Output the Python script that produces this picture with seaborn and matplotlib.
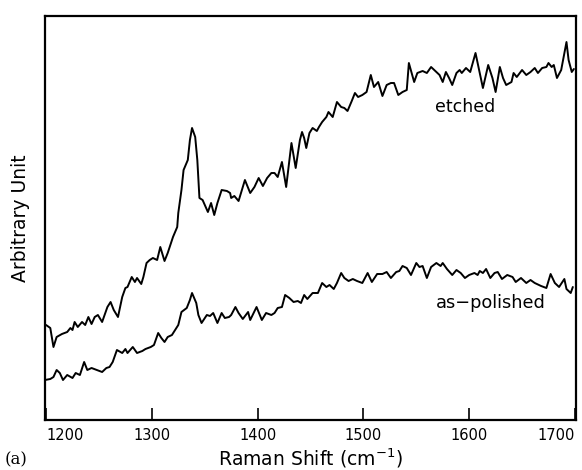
import matplotlib
matplotlib.use("Agg")
import matplotlib.pyplot as plt
import seaborn as sns
import pandas as pd

# Raman shift (cm^-1) and intensity (arbitrary units)
etched_shift = [1200, 1204, 1207, 1210, 1215, 1220, 1223, 1225, 1227, 1230, 1234, 1237, 1240, 1243,
                1246, 1249, 1253, 1256, 1258, 1261, 1264, 1268, 1272, 1275, 1277, 1281, 1284, 1286,
                1290, 1292, 1295, 1298, 1301, 1305, 1308, 1312, 1315, 1320, 1324, 1325, 1328, 1330,
                1334, 1336, 1338, 1341, 1343, 1345, 1348, 1353, 1356, 1359, 1362, 1366, 1371, 1374,
                1375, 1378, 1382, 1388, 1393, 1397, 1401, 1405, 1409, 1413, 1416, 1419, 1423, 1427,
                1432, 1436, 1440, 1442, 1444, 1446, 1449, 1452, 1456, 1458, 1461, 1465, 1467, 1471,
                1475, 1479, 1482, 1485, 1489, 1492, 1495, 1499, 1503, 1507, 1510, 1514, 1518, 1522,
                1526, 1529, 1533, 1537, 1541, 1543, 1548, 1551, 1556, 1560, 1564, 1569, 1572, 1575,
                1578, 1581, 1584, 1588, 1591, 1593, 1597, 1601, 1606, 1609, 1613, 1618, 1622, 1625,
                1629, 1632, 1635, 1640, 1642, 1645, 1650, 1654, 1658, 1662, 1665, 1669, 1673, 1675,
                1678, 1680, 1683, 1687, 1692, 1694, 1697, 1699]
etched_int = [95, 92, 73, 83, 86, 88, 92, 90, 98, 93, 98, 95, 103, 96,
              103, 105, 98, 107, 113, 118, 110, 103, 123, 132, 133, 143, 138, 142,
              136, 143, 157, 160, 162, 160, 173, 159, 167, 183, 193, 207, 230, 250,
              260, 280, 292, 283, 260, 222, 220, 208, 217, 205, 217, 230, 229, 227,
              222, 224, 219, 240, 227, 233, 242, 234, 242, 247, 247, 243, 258, 233,
              277, 252, 280, 288, 282, 272, 287, 292, 289, 293, 298, 303, 308, 303,
              318, 313, 312, 309, 319, 327, 323, 325, 328, 345, 333, 338, 324, 335,
              337, 337, 325, 328, 330, 357, 338, 347, 349, 347, 353, 348, 345, 338,
              348, 342, 335, 347, 350, 347, 352, 348, 367, 352, 332, 355, 342, 328,
              353, 342, 335, 338, 347, 343, 350, 345, 348, 352, 347, 352, 353, 357,
              353, 355, 342, 350, 378, 360, 348, 351]

polished_shift = [1199, 1204, 1207, 1210, 1213, 1216, 1220, 1225, 1228, 1232, 1236, 1239, 1243, 1248,
                  1253, 1257, 1260, 1263, 1267, 1272, 1275, 1277, 1282, 1286, 1291, 1294, 1299, 1302,
                  1306, 1309, 1312, 1315, 1319, 1322, 1325, 1328, 1333, 1336, 1338, 1342, 1344, 1347,
                  1352, 1355, 1358, 1362, 1366, 1369, 1373, 1375, 1379, 1382, 1386, 1391, 1393, 1399,
                  1404, 1408, 1413, 1416, 1419, 1423, 1426, 1430, 1434, 1438, 1441, 1444, 1447, 1452,
                  1457, 1461, 1465, 1468, 1472, 1475, 1479, 1482, 1486, 1490, 1494, 1499, 1504, 1508,
                  1513, 1518, 1522, 1526, 1531, 1534, 1537, 1541, 1545, 1550, 1553, 1556, 1560, 1564,
                  1569, 1573, 1575, 1579, 1584, 1588, 1592, 1596, 1600, 1605, 1608, 1610, 1613, 1616,
                  1620, 1624, 1627, 1631, 1636, 1641, 1644, 1649, 1654, 1658, 1662, 1668, 1673, 1677,
                  1681, 1685, 1690, 1692, 1696, 1698]
polished_int = [40, 41, 43, 50, 47, 40, 45, 42, 47, 45, 58, 50, 52, 50,
                48, 52, 53, 58, 70, 67, 71, 67, 73, 67, 69, 71, 73, 75,
                87, 82, 78, 83, 85, 90, 95, 108, 112, 120, 127, 117, 105, 97,
                105, 104, 107, 97, 107, 102, 103, 105, 113, 107, 101, 108, 100, 113,
                100, 107, 105, 107, 112, 113, 125, 122, 118, 119, 117, 125, 121, 127,
                127, 137, 133, 135, 131, 137, 147, 142, 139, 141, 139, 137, 147, 138,
                146, 146, 148, 142, 148, 149, 154, 152, 145, 157, 153, 154, 142, 153,
                157, 154, 157, 151, 145, 150, 147, 142, 145, 147, 145, 149, 147, 151,
                142, 147, 148, 141, 145, 143, 138, 142, 137, 140, 137, 134, 132, 146,
                137, 133, 141, 131, 127, 133]

tick_values = [1200, 1300, 1400, 1500, 1600, 1700]
tick_labels = ["1200", "1300", "1400", "1500", "1600", "1700"]

sns.set_style("white")
plt.rcParams["font.family"] = ["DejaVu Sans"]
plt.rcParams["text.color"] = "black"
plt.rcParams["axes.labelcolor"] = "black"
plt.rcParams["xtick.color"] = "black"

df_e = pd.DataFrame({"shift": etched_shift, "intensity": etched_int})
df_p = pd.DataFrame({"shift": polished_shift, "intensity": polished_int})

fig = plt.figure(figsize=(5.82, 4.70), dpi=100)
ax = fig.add_axes([45 / 582, 50 / 470, 531 / 582, 404 / 470])

sns.lineplot(data=df_e, x="shift", y="intensity", color="black", lw=1.4,
             estimator=None, ax=ax)
sns.lineplot(data=df_p, x="shift", y="intensity", color="black", lw=1.4,
             estimator=None, ax=ax)

ax.set_xlim(1199, 1701)
ax.set_ylim(0, 404)
ax.set_xticks(tick_values)
ax.set_xticklabels(tick_labels, fontsize=10.5, color="black")
ax.set_yticks([])
ax.tick_params(axis="x", which="major", bottom=True, direction="in", length=9,
               width=1.2, pad=6, color="black", labelcolor="black")
labels = ax.get_xticklabels()
labels[0].set_horizontalalignment("left")
labels[-1].set_horizontalalignment("right")

for s in ax.spines.values():
    s.set_color("black")
    s.set_linewidth(1.6)

ax.set_xlabel("Raman Shift (cm$^{-1}$)", fontsize=13.5, labelpad=2, color="black")
ax.set_ylabel("Arbitrary Unit", fontsize=13.5, labelpad=11, color="black")

ax.text(1596, 313, "etched", fontsize=12.5, ha="center", va="center", color="black")
ax.text(1620, 117, "as\u2212polished", fontsize=12.8, ha="center", va="center", color="black")
fig.text(5 / 582, 1 - 460 / 470, "(a)", fontsize=12, family="DejaVu Serif",
         ha="left", va="center", color="black")

fig.savefig("out.png", dpi=100)
